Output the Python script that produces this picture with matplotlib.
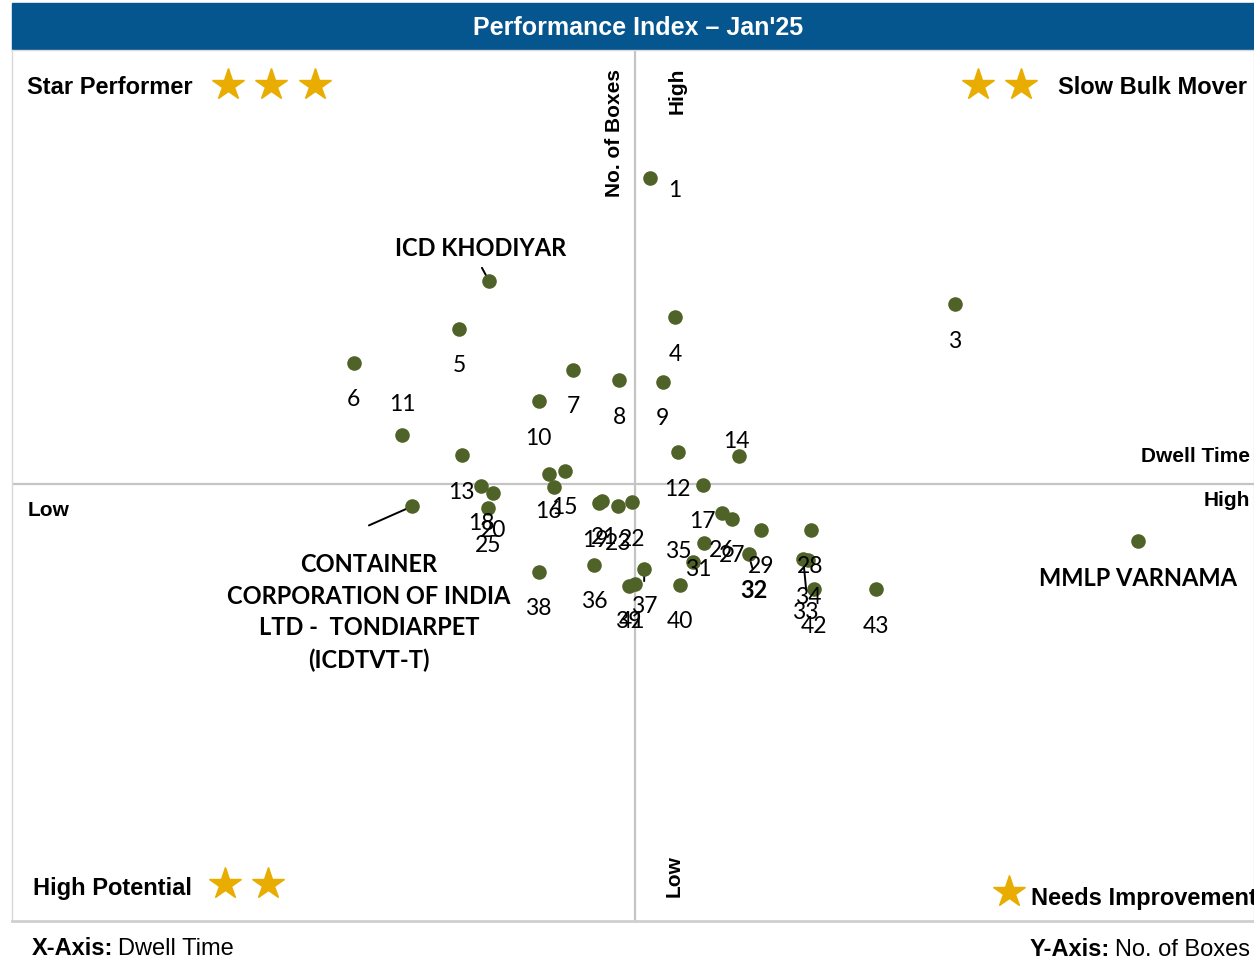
import matplotlib
matplotlib.use("Agg")
import matplotlib.pyplot as plt
from matplotlib.patches import Rectangle

# Dwell time (x) and no. of boxes (y), both on a 0-100 index scale
labels = ['1', 'ICD KHODIYAR', '3', '4', '5', '6', '7', '8', '9', '10',
          '11', '12', '13', '14', '15', '16', '', '17', '18', '20',
          '25', '19', '21', '23', '22', 'CONTAINER\nCORPORATION OF INDIA\nLTD -  TONDIARPET\n(ICDTVT-T)',
          '26', '27', '29', '28', '35', 'MMLP VARNAMA', '32', '33', '34', '31',
          '36', '37', '38', '40', '39', '41', '42', '43']
dwell = [51.4, 38.4, 75.9, 53.4, 36.0, 27.5, 45.2, 48.9, 52.4, 42.4,
         31.4, 53.6, 36.2, 58.5, 44.5, 43.2, 43.6, 55.6, 37.8, 38.7,
         38.3, 47.3, 47.5, 48.8, 49.9, 32.2,
         57.2, 58.0, 60.3, 64.3, 55.7, 90.7, 59.3, 63.7, 64.1, 54.8,
         46.9, 50.9, 42.4, 53.8, 49.7, 50.2, 64.6, 69.6]
boxes = [85.3, 73.5, 70.8, 69.3, 68.0, 64.1, 63.3, 62.1, 61.9, 59.7,
         55.8, 53.8, 53.5, 53.4, 51.7, 51.3, 49.8, 50.1, 49.9, 49.1,
         47.4, 48.0, 48.2, 47.6, 48.1, 47.6,
         46.8, 46.2, 44.9, 44.9, 43.4, 43.6, 42.1, 41.6, 41.4, 41.2,
         40.9, 40.4, 40.1, 38.6, 38.5, 38.7, 38.1, 38.1]
x_mid = 50.2
y_mid = 50.2

named = ['ICD KHODIYAR', 'MMLP VARNAMA', '32', labels[25]]

# label offsets in pixels (default is straight below the point)
offsets = {'1': (24, -12), 'ICD KHODIYAR': (-8, 32), '11': (0, 30),
           '14': (-2, 14), '35': (-26, -9), '31': (6, -7), '32': (5, -36),
           '33': (2, -54), '19': (-4, -38), '21': (2, -36), '39': (-1, -36),
           '41': (-3, -38), labels[25]: (-43, -106)}
leaders = {'ICD KHODIYAR': (-7, 13), labels[25]: (-43, -19), '32': (4, -14),
           '33': (3, -31), '37': (0, -12)}

W, H = 1254, 963
fig = plt.figure(figsize=(W / 100, H / 100), dpi=100)
fig.patch.set_facecolor('white')


def fx(px):
    return px / W


def fy(py):
    return 1 - py / H


# title band
fig.add_artist(Rectangle((fx(12), fy(50)), fx(1254) - fx(12), fy(3) - fy(50),
                         transform=fig.transFigure, color='#05558f', zorder=0))
fig.text(fx(638), fy(28), "Performance Index \u2013 Jan'25", color='white',
         fontsize=18, fontweight='bold', family='Liberation Sans',
         ha='center', va='center')

ax = fig.add_axes([fx(12), fy(921), fx(1254) - fx(12), fy(50) - fy(921)])
ax.set_xlim(0, 100)
ax.set_ylim(0, 100)
ax.set_xticks([])
ax.set_yticks([])
for side in ['left', 'top', 'right']:
    ax.spines[side].set_color('#d9d9d9')
    ax.spines[side].set_linewidth(1)
ax.spines['bottom'].set_color('#cfcfcf')
ax.spines['bottom'].set_linewidth(2)

ax.axvline(x_mid, color='#c4c4c4', lw=1.6, zorder=1)
ax.axhline(y_mid, color='#c4c4c4', lw=1.6, zorder=1)

ax.scatter(dwell, boxes, s=110, color='#4f6228', zorder=3, linewidths=0)

for lab, x, y in zip(labels, dwell, boxes):
    if lab in leaders:
        ax.annotate('', xy=(x, y), xytext=leaders[lab], textcoords='offset pixels',
                    arrowprops=dict(arrowstyle='-', color='black', lw=1.4,
                                    shrinkA=0, shrinkB=2), zorder=2)
    if not lab:
        continue
    dx, dy = offsets.get(lab, (0, -37))
    bold = lab in named
    ax.annotate(lab, (x, y), xytext=(dx, dy), textcoords='offset pixels',
                ha='center', va='center', fontsize=17 if bold else 16.5,
                fontweight='bold' if bold else 'normal', family='Lato',
                linespacing=1.45, zorder=4)

# quadrant names and stars
qfont = dict(fontsize=17, fontweight='bold', family='Liberation Sans', va='center')
fig.text(fx(27), fy(88), 'Star Performer', ha='left', **qfont)
fig.text(fx(1058), fy(88), 'Slow Bulk Mover', ha='left', **qfont)
fig.text(fx(33), fy(889), 'High Potential', ha='left', **qfont)
fig.text(fx(1031), fy(898), 'Needs Improvement', ha='left', **qfont)

star_x = [228, 271, 315, 978, 1021, 225, 268, 1009]
star_y = [85, 85, 85, 85, 85, 884, 884, 892]
fig.add_artist(plt.Line2D([fx(v) for v in star_x], [fy(v) for v in star_y],
                          transform=fig.transFigure, ls='none', marker='*',
                          ms=24, color='#e8ad00', mec='#e8ad00'))

afont = dict(fontsize=15, fontweight='bold', family='Liberation Sans')
fig.text(fx(614), fy(133), 'No. of Boxes', rotation=90, ha='center', va='center', **afont)
fig.text(fx(677), fy(91), 'High', rotation=90, ha='center', va='center', **afont)
fig.text(fx(674), fy(876), 'Low', rotation=90, ha='center', va='center', **afont)
fig.text(fx(1250), fy(456), 'Dwell Time', ha='right', va='center', **afont)
fig.text(fx(1250), fy(500), 'High', ha='right', va='center', **afont)
fig.text(fx(28), fy(511), 'Low', ha='left', va='center', **afont)

# footer
t = fig.text(fx(32), fy(955), 'X-Axis:', fontsize=17, fontweight='bold',
             family='Liberation Sans', va='baseline', ha='left')
fig.canvas.draw()
bb = t.get_window_extent()
fig.text(bb.x1 / W + fx(5), fy(955), 'Dwell Time', fontsize=17,
         family='Liberation Sans', va='baseline', ha='left')
t2 = fig.text(fx(1250), fy(956), 'No. of Boxes', fontsize=17,
              family='Liberation Sans', va='baseline', ha='right')
fig.canvas.draw()
bb2 = t2.get_window_extent()
fig.text(bb2.x0 / W - fx(5), fy(956), 'Y-Axis:', fontsize=17, fontweight='bold',
         family='Liberation Sans', va='baseline', ha='right')

fig.savefig('out.png', dpi=100)
